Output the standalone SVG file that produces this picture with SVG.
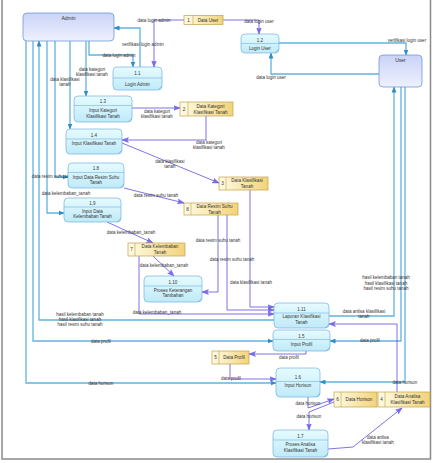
<svg xmlns="http://www.w3.org/2000/svg" width="433" height="463" viewBox="0 0 433 463">
<defs>
<linearGradient id="gEnt" x1="0" y1="0" x2="0" y2="1"><stop offset="0" stop-color="#c9d3f6"/><stop offset="1" stop-color="#eef1fd"/></linearGradient>
<linearGradient id="gProc" x1="0" y1="0" x2="0" y2="1"><stop offset="0" stop-color="#e6fbff"/><stop offset="1" stop-color="#bfeaf8"/></linearGradient>
<linearGradient id="gStore" x1="0" y1="0" x2="1" y2="0"><stop offset="0" stop-color="#fffbe4"/><stop offset="1" stop-color="#f2d37a"/></linearGradient>
<marker id="aB" markerUnits="userSpaceOnUse" markerWidth="6" markerHeight="5" refX="5.5" refY="2.5" orient="auto"><path d="M0,0 L6,2.5 L0,5 Z" fill="#2f8fc4"/></marker>
<marker id="aP" markerUnits="userSpaceOnUse" markerWidth="7" markerHeight="6" refX="6.5" refY="3" orient="auto"><path d="M0,0.5 L6.5,3 L0,5.5 L1.5,3 Z" fill="#7a6cf0" stroke="#5a4bd6" stroke-width="0.4"/></marker>
</defs>
<style>
text{font-family:"Liberation Sans",Arial,sans-serif;font-size:4.5px;fill:#333;text-anchor:middle}
.ent rect{fill:url(#gEnt);stroke:#6f9bd6;stroke-width:0.8}
.ent text{font-size:5px}
.proc rect{fill:url(#gProc);stroke:#74b2e0;stroke-width:0.7}
.proc line,.proc path{stroke:#74b2e0;stroke-width:0.6;fill:none}
.store rect{fill:url(#gStore);stroke:#c4a24a;stroke-width:0.7}
.store line{stroke:#c4a24a;stroke-width:0.6}
.st text{font-size:4.6px}
.b{fill:none;stroke:#62b2de;stroke-width:1.3}
.p{fill:none;stroke:#5e4fe0;stroke-width:0.8}
.bl{marker-end:url(#aB)}
.pl{marker-end:url(#aP)}
</style>
<rect x="0" y="0" width="433" height="463" fill="#ffffff"/>
<path d="M2,0 V459 H430.5 V0" fill="none" stroke="#8a8a8a" stroke-width="1.5"/>

<g id="connectors">
<path class="b bl" d="M89,41 V55 H133 V67"/>
<path class="b bl" d="M140,67 V28 H114"/>
<path class="b bl" d="M279,43 H406 V55"/>
<path class="b bl" d="M379,74 H271 V53"/>
<path class="b bl" d="M86,41 V96"/>
<path class="b bl" d="M70,41 V129"/>
<path class="b bl" d="M55,41 V177 H68"/>
<path class="b bl" d="M47,41 V213 H64"/>
<path class="b bl" d="M274,320 H39 V41"/>
<path class="b bl" d="M33,41 V341 H273"/>
<path class="b bl" d="M26,41 V383 H276"/>
<path class="b bl" d="M329,316 H394 V87"/>
<path class="b bl" d="M401,87 V341 H330"/>
<path class="b bl" d="M405,87 V382 H320"/>

<path class="p pl" d="M184,20 H154 V67"/>
<path class="p pl" d="M223,20 H259 V34"/>
<path class="p pl" d="M132,108 H180"/>
<path class="p pl" d="M206,116 V140 H122"/>
<path class="p pl" d="M122,143 L219,183"/>
<path class="p pl" d="M124,188 L184,203"/>
<path class="p pl" d="M107,222 L153,243"/>
<path class="p pl" d="M153,256 L174,276"/>
<path class="p pl" d="M218,215 V292 H202"/>
<path class="p pl" d="M227,215 V310 H274"/>
<path class="p pl" d="M250,190 V307 H274"/>
<path class="p pl" d="M139,256 V314 H274"/>
<path class="p pl" d="M397,392 V324 H329"/>
<path class="p pl" d="M306,351 V354 H249"/>
<path class="p pl" d="M230,364 V379 H276"/>
<path class="p pl" d="M308,397 V408 L334,399"/>
<path class="p pl" d="M334,402 L309,412 V430"/>
<path class="p pl" d="M328,449 L353,447 L402,408"/>

<g id="labels">
<text x="119" y="56.5">data login admin</text>
<text x="143" y="46">verifikasi login admin</text>
<text x="407" y="41.5">verifikasi login user</text>
<text x="271" y="78.5">data login user</text>
<text x="92" y="71">data kategori</text>
<text x="92" y="76">klasifikasi tanah</text>
<text x="65" y="81">data klasifikasi</text>
<text x="65" y="86">tanah</text>
<text x="54" y="178">data resim suhu tanah</text>
<text x="66" y="194.5">data kelembaban_tanah</text>
<text x="80" y="316">hasil kelembaban tanah</text>
<text x="80" y="321">hasil klasifikasi tanah</text>
<text x="80" y="326">hasil resim suhu tanah</text>
<text x="101" y="342.5">data profil</text>
<text x="101" y="384.5">data horison</text>
<text x="386" y="279">hasil kelembaban tanah</text>
<text x="386" y="284.5">hasil klasifikasi tanah</text>
<text x="386" y="290">hasil resim suhu tanah</text>
<text x="370" y="341.5">data profil</text>
<text x="405" y="383.5">data horison</text>
<text x="154" y="21.5">data login admin</text>
<text x="259" y="22.5">data login user</text>
<text x="157" y="112.5">data kategori</text>
<text x="157" y="117.5">klasifikasi tanah</text>
<text x="209" y="144">data kategori</text>
<text x="209" y="149">klasifikasi tanah</text>
<text x="170" y="162.5">data klasifikasi</text>
<text x="170" y="167.5">tanah</text>
<text x="156" y="197">data resim suhu tanah</text>
<text x="131" y="233.5">data kelembaban_tanah</text>
<text x="164" y="266.5">data kelembaban_tanah</text>
<text x="218" y="241.5">data resim suhu tanah</text>
<text x="232" y="261">data resim suhu tanah</text>
<text x="251" y="284">data klasifikasi tanah</text>
<text x="157" y="314">data kelembaban_tanah</text>
<text x="364" y="312.5">data anlisa klasifikasi</text>
<text x="364" y="317.5">tanah</text>
<text x="289" y="359">data profil</text>
<text x="231" y="380">data profil</text>
<text x="308" y="405">data horison</text>
<text x="309" y="418">data horison</text>
<text x="378" y="438.5">data anlisa</text>
<text x="378" y="443.5">klasifikasi tanah</text>
</g>
</g>

<g id="admin" class="ent"><rect x="23" y="13" width="91" height="28" rx="4"/><text x="68.5" y="20">Admin</text></g>
<g id="user" class="ent"><rect x="379" y="55" width="43" height="32" rx="4"/><text x="400.5" y="62">User</text></g>

<g id="p1_1" class="proc"><rect x="113" y="67" width="49" height="23" rx="4"/><line x1="113" y1="78" x2="162" y2="78"/><path d="M158,90 L162,86"/><text x="137.5" y="75">1.1</text><text x="137.5" y="85.5">Login Admin</text></g>
<g id="p1_2" class="proc"><rect x="241" y="34" width="38" height="19" rx="4"/><line x1="241" y1="43.5" x2="279" y2="43.5"/><path d="M275,53 L279,49"/><text x="260" y="41.5">1.2</text><text x="260" y="49.5">Login User</text></g>
<g id="p1_3" class="proc"><rect x="74" y="96" width="58" height="26" rx="4"/><line x1="74" y1="105.5" x2="132" y2="105.5"/><path d="M128,122 L132,118"/><text x="103" y="103">1.3</text><text x="103" y="111.5">Input Kategori</text><text x="103" y="117.5">Klasifikasi Tanah</text></g>
<g id="p1_4" class="proc"><rect x="66" y="129" width="56" height="25" rx="4"/><line x1="66" y1="139" x2="122" y2="139"/><path d="M118,154 L122,150"/><text x="94" y="136.5">1.4</text><text x="94" y="145">Input Klasifikasi Tanah</text></g>
<g id="p1_8" class="proc"><rect x="68" y="163" width="56" height="25" rx="4"/><line x1="68" y1="172.5" x2="124" y2="172.5"/><path d="M120,188 L124,184"/><text x="96" y="170">1.8</text><text x="96" y="178.5">Input Data Resim Suhu</text><text x="96" y="184">Tanah</text></g>
<g id="p1_9" class="proc"><rect x="64" y="198" width="57" height="24" rx="4"/><line x1="64" y1="207" x2="121" y2="207"/><path d="M117,222 L121,218"/><text x="92.5" y="205">1.9</text><text x="92.5" y="212.5">Input Data</text><text x="92.5" y="218">Kelembaban Tanah</text></g>
<g id="p1_10" class="proc"><rect x="144" y="276" width="58" height="26" rx="4"/><line x1="144" y1="286" x2="202" y2="286"/><path d="M198,302 L202,298"/><text x="173" y="283.5">1.10</text><text x="173" y="291.5">Proses Keterangan</text><text x="173" y="297">Tambahan</text></g>
<g id="p1_11" class="proc"><rect x="274" y="303" width="55" height="25" rx="4"/><line x1="274" y1="313" x2="329" y2="313"/><path d="M325,328 L329,324"/><text x="301.5" y="310.5">1.11</text><text x="301.5" y="318">Laporan Klasifikasi</text><text x="301.5" y="323.5">Tanah</text></g>
<g id="p1_5" class="proc"><rect x="273" y="330" width="57" height="21" rx="4"/><line x1="273" y1="339.5" x2="330" y2="339.5"/><path d="M326,351 L330,347"/><text x="301.5" y="337.5">1.5</text><text x="301.5" y="345.5">Input Profil</text></g>
<g id="p1_6" class="proc"><rect x="276" y="368" width="44" height="29" rx="4"/><line x1="276" y1="381.5" x2="320" y2="381.5"/><path d="M316,397 L320,393"/><text x="298" y="379">1.6</text><text x="298" y="387">Input Horison</text></g>
<g id="p1_7" class="proc"><rect x="273" y="430" width="55" height="27" rx="4"/><line x1="273" y1="440" x2="328" y2="440"/><path d="M324,457 L328,453"/><text x="300.5" y="438">1.7</text><text x="300.5" y="445.5">Proses Analisa</text><text x="300.5" y="451.5">Klasifikasi Tanah</text></g>

<g id="s1" class="store st"><rect x="184" y="15.5" width="39" height="9"/><line x1="193" y1="15.5" x2="193" y2="24.5"/><text x="188.5" y="21.6">1</text><text x="208" y="21.6">Data User</text></g>
<g id="s2" class="store st"><rect x="180" y="102" width="53" height="14"/><line x1="188" y1="102" x2="188" y2="116"/><text x="184" y="110.6">2</text><text x="210.5" y="107.8">Data Kategori</text><text x="210.5" y="113.5">Klasifikasi Tanah</text></g>
<g id="s3" class="store st"><rect x="219" y="177" width="49" height="13"/><line x1="226" y1="177" x2="226" y2="190"/><text x="222.5" y="185.1">3</text><text x="247" y="182.3">Data Klasifikasi</text><text x="247" y="188">Tanah</text></g>
<g id="s8" class="store st"><rect x="184" y="203" width="54" height="12"/><line x1="191" y1="203" x2="191" y2="215"/><text x="187.5" y="210.6">8</text><text x="214.5" y="208">Data Resim Suhu</text><text x="214.5" y="213.6">Tanah</text></g>
<g id="s7" class="store st"><rect x="128" y="243" width="57" height="13"/><line x1="135" y1="243" x2="135" y2="256"/><text x="131.5" y="251.1">7</text><text x="160" y="248.3">Data Kelembaban</text><text x="160" y="254">Tanah</text></g>
<g id="s5" class="store st"><rect x="212" y="351" width="37" height="13"/><line x1="219" y1="351" x2="219" y2="364"/><text x="215.5" y="359.1">5</text><text x="234" y="359.1">Data Profil</text></g>
<g id="s6" class="store st"><rect x="334" y="392" width="43" height="15"/><line x1="341" y1="392" x2="341" y2="407"/><text x="337.5" y="401.1">6</text><text x="359" y="401.1">Data Horison</text></g>
<g id="s4" class="store st"><rect x="378" y="392" width="52" height="15"/><line x1="385" y1="392" x2="385" y2="407"/><text x="381.5" y="401.1">4</text><text x="407.5" y="398.3">Data Analisa</text><text x="407.5" y="404">Klasifikasi Tanah</text></g>
</svg>
